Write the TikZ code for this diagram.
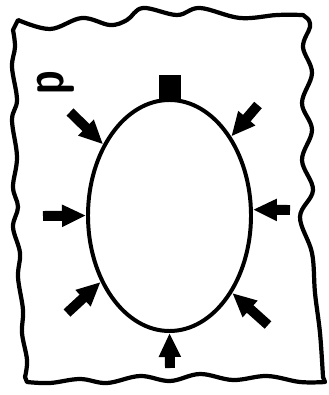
\documentclass[tikz,border=0pt]{standalone}
\usetikzlibrary{arrows.meta,shapes.geometric}

\begin{document}
\begin{tikzpicture}[x=0.03cm,y=-0.03cm,line cap=round,
  sheet/.style={line width=3.6pt,line join=round},
  push/.style={line width=8.5pt,line cap=butt,-{Triangle[length=0.72cm,width=0.62cm]}}]
\useasboundingbox (0,0) rectangle (328,395);
% torn sheet round the body
\draw[sheet] plot[smooth,tension=0.6] coordinates {(18,20) (50,29) (82,18) (110,25) (127,20) (143,8) (177,15) (200,8) (240,18) (277,15) (303,15)}
  -- plot[smooth,tension=0.6] coordinates {(308,19) (310,27) (303,47) (312,73) (302,103) (312,130) (302,160) (313,190) (300,217) (312,253) (315,293) (320,333) (323,377)}
  -- plot[smooth,tension=0.6] coordinates {(325,382) (300,382) (267,376) (233,380) (200,374) (170,381) (140,376) (107,383) (80,379) (50,383) (27,382)}
  -- plot[smooth,tension=0.6] coordinates {(25,377) (27,360) (22,333) (23,310) (18,277) (20,253) (13,227) (18,207) (13,187) (17,157) (12,120) (17,100) (12,67) (15,47) (13,30)} -- cycle;
% body and its cap
\node[draw,ellipse,line width=3.4pt,inner sep=0pt,minimum width=4.89cm,minimum height=6.93cm] (cell) at (169.5,215.5) {};
\node[fill,inner sep=0pt,minimum width=0.66cm,minimum height=0.82cm,anchor=south] (cap) at ([yshift=-4pt]cell.north) {};
\node[inner sep=0pt,font=\sffamily\bfseries\fontsize{48}{52}\selectfont] (plabel) at (56,83) {\rotatebox{90}{\scalebox{0.75}[1]{p}}};
% pressure from all sides
\coordinate (tUL) at (70,112);
\coordinate (tUR) at (258,105);
\coordinate (tL) at (43,216);
\coordinate (tR) at (290,210);
\coordinate (tLL) at (67,313);
\coordinate (tLR) at (268,325);
\coordinate (tB) at (170,368);
\draw[push] (tUL) -- (cell.133);
\draw[push] (tUR) -- (cell.52);
\draw[push] (tL) -- (cell.180);
\draw[push] (tR) -- (cell.4);
\draw[push] (tLL) -- (cell.224);
\draw[push] (tLR) -- (cell.309);
\draw[push] (tB) -- (cell.270);
\end{tikzpicture}
\end{document}
